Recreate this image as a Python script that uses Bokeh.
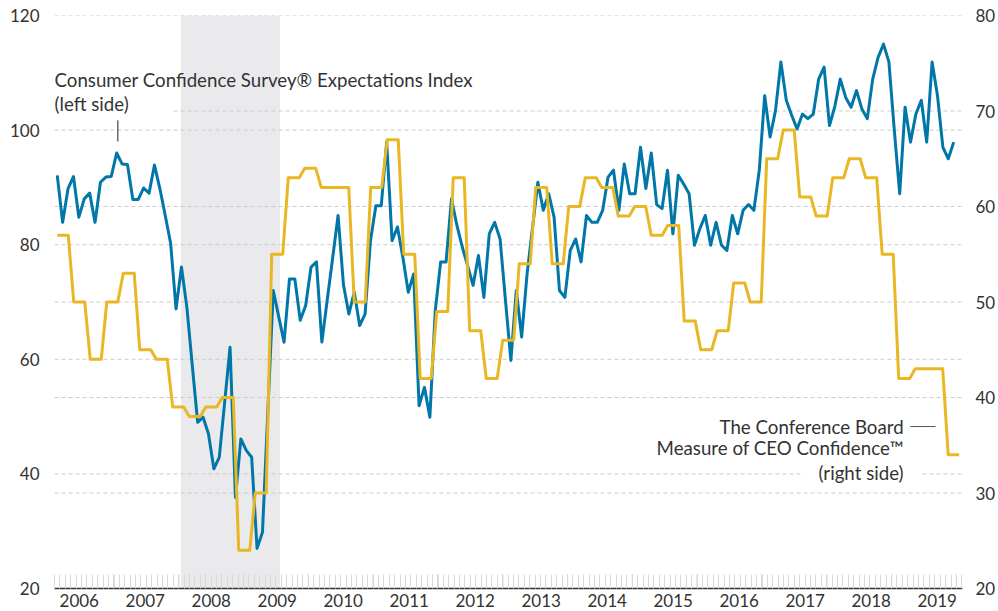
from bokeh.plotting import figure
from bokeh.models import Range1d, LinearAxis, FixedTicker, BoxAnnotation, Label, Span
from bokeh.embed import file_html
from bokeh.resources import INLINE

# ---------------- data ----------------
years = [str(y) for y in range(2006, 2020)]

# Consumer Confidence Survey Expectations Index, monthly from Jan 2006 (left axis)
expectations = [
    92.1, 83.9, 89.8, 91.9, 84.8, 88.0, 89.0, 83.9, 90.9, 91.8, 91.9, 96.0,
    94.1, 94.0, 87.9, 87.9, 89.9, 89.0, 93.9, 89.8, 85.1, 80.2, 68.8, 76.1,
    69.1, 59.0, 49.0, 49.9, 47.0, 40.9, 42.9, 52.5, 62.1, 35.9, 46.1, 44.1,
    42.9, 27.0, 29.8, 51.0, 72.0, 67.5, 63.0, 74.0, 74.0, 66.8, 69.4, 76.1,
    77.0, 63.0, 70.4, 77.7, 85.1, 73.0, 67.9, 71.7, 65.9, 67.9, 80.7, 86.8,
    86.8, 97.9, 80.7, 83.1, 77.8, 71.7, 74.9, 51.9, 55.1, 49.9, 68.5, 77.0,
    77.0, 88.0, 83.4, 79.6, 76.3, 72.9, 78.1, 70.8, 81.9, 83.9, 81.0, 70.3,
    59.8, 72.0, 63.9, 74.9, 82.9, 90.9, 86.0, 88.9, 84.8, 72.0, 70.8, 79.0,
    81.0, 77.0, 85.1, 83.9, 83.9, 86.0, 91.8, 93.0, 86.0, 94.1, 88.9, 88.9,
    97.0, 89.8, 96.0, 87.0, 86.3, 93.0, 81.9, 92.1, 90.6, 88.9, 79.9, 82.8,
    85.1, 79.9, 83.9, 79.9, 79.0, 85.1, 81.9, 86.0, 87.0, 86.0, 93.0, 106.0,
    98.8, 103.4, 111.9, 105.2, 102.6, 100.2, 102.8, 102.0, 102.8, 108.9, 111.0, 100.8,
    104.2, 108.9, 105.7, 104.0, 106.9, 103.7, 102.0, 108.9, 112.7, 115.0, 111.9, 100.0,
    88.9, 104.0, 97.9, 102.8, 105.2, 97.9, 111.9, 106.0, 97.0, 95.0, 97.9,
]

# Measure of CEO Confidence, quarterly from Q1 2006 (right axis)
ceo_quarterly = [
    57, 50, 44, 50, 53, 45, 44, 39, 38, 39, 40, 24, 30, 55,
    63, 64, 62, 62, 50, 62, 67, 55, 42, 49, 63, 47, 42, 46,
    54, 62, 54, 60, 63, 62, 59, 60, 57, 58, 48, 45, 47, 52,
    50, 65, 68, 61, 59, 63, 65, 63, 55, 42, 43, 43, 34,
]

# recession shading: Dec 2007 .. Jun 2009 (months since Jan 2006)
recession = (23, 41)

left_ticks = [20, 40, 60, 80, 100, 120]
right_ticks = [20, 30, 40, 50, 60, 70, 80]

# ---------------- styling / layout ----------------
BLUE = "#0077A8"
GOLD = "#E9B723"
TXT = "#333333"
FONT = "Lato"
GRID = "#cccccc"
ANN_SIZE = "18.7px"

# the monthly index series is drawn slightly tighter than the CEO months
BLUE_STEP = 163.0 / 166.0
bx = [i * BLUE_STEP for i in range(len(expectations))]
ceo_monthly = [v for v in ceo_quarterly for _ in range(3)]
yx = list(range(len(ceo_monthly)))

label_pos = [4 + 12 * k for k in range(len(years))]
minor_pos = [(k + 0.5) * BLUE_STEP for k in range(-1, 168)]
year_tick_pos = [(10.5 + 12 * k) * BLUE_STEP for k in range(0, 14)]

p = figure(
    frame_width=908, frame_height=573,
    x_range=Range1d(-0.5, 164.6), y_range=Range1d(20, 120),
    output_backend="svg", toolbar_location=None,
    min_border_left=54, min_border_right=36, min_border_top=15, min_border_bottom=23,
    background_fill_color="white", border_fill_color="white", outline_line_color=None,
)
p.extra_y_ranges = {"right": Range1d(20, 80)}

# recession band
p.add_layout(BoxAnnotation(left=recession[0] - 0.5, right=recession[1] - 0.5,
                           fill_color="#EAEAED", fill_alpha=1.0, line_color=None,
                           level="underlay"))

# dashed grid lines for both scales
p.xgrid.visible = False
p.ygrid.visible = False
for v in left_ticks[1:]:
    p.add_layout(Span(location=v, dimension="width", line_color=GRID,
                      line_dash="4 3", line_width=1, level="underlay"))
for v in right_ticks[1:-1]:
    p.add_layout(Span(location=v, dimension="width", y_range_name="right",
                      line_color=GRID, line_dash="4 3", line_width=1, level="underlay"))

# left axis
ya = p.yaxis[0]
ya.ticker = FixedTicker(ticks=left_ticks)
ya.axis_line_color = None
ya.major_tick_line_color = None
ya.minor_tick_line_color = None
ya.major_tick_out = 0
ya.major_tick_in = 0
ya.major_label_standoff = 15
ya.major_label_text_font = FONT
ya.major_label_text_font_size = "17px"
ya.major_label_text_color = TXT

# right axis
ra = LinearAxis(y_range_name="right", ticker=FixedTicker(ticks=right_ticks))
ra.axis_line_color = None
ra.major_tick_line_color = None
ra.minor_tick_line_color = None
ra.major_tick_out = 0
ra.major_tick_in = 0
ra.major_label_standoff = 13
ra.major_label_text_font = FONT
ra.major_label_text_font_size = "17px"
ra.major_label_text_color = TXT
p.add_layout(ra, "right")

# bottom axis: line, monthly ticks and year labels
xa = p.xaxis[0]
xa.ticker = FixedTicker(ticks=label_pos, minor_ticks=minor_pos)
xa.major_label_overrides = {pos: yr for pos, yr in zip(label_pos, years)}
xa.major_tick_line_color = None
xa.major_tick_out = 0
xa.major_tick_in = 0
xa.minor_tick_in = 14
xa.minor_tick_out = 0
xa.minor_tick_line_color = "#d9d9d9"
xa.minor_tick_line_width = 1
xa.axis_line_color = "#333333"
xa.axis_line_width = 1.4
xa.major_label_standoff = 5
xa.major_label_text_font = FONT
xa.major_label_text_font_size = "17px"
xa.major_label_text_color = TXT

# darker year ticks
p.segment(x0=year_tick_pos, y0=[20] * len(year_tick_pos),
          x1=year_tick_pos, y1=[22.44] * len(year_tick_pos),
          line_color="#b4b4b4", line_width=1)

# series
p.line(bx, expectations, line_color=BLUE, line_width=3, line_join="round")
p.line(yx, ceo_monthly, y_range_name="right", line_color=GOLD, line_width=3, line_join="round")

# annotations
def lab(x, y, text, align="left", rng="default", **kw):
    return Label(x=x, y=y, text=text, text_align=align, text_baseline="middle",
                 text_font=FONT, text_font_size=ANN_SIZE, text_color=TXT,
                 y_range_name=rng, **kw)

# white mask that interrupts the grid line just under the left-side note
p.add_layout(BoxAnnotation(left=-0.5, right=21.1, bottom=102.6, top=104.0,
                           fill_color="white", fill_alpha=1.0, line_color=None))
p.add_layout(lab(-0.5, 108.66, "Consumer Confidence Survey\u00ae Expectations Index"))
p.add_layout(lab(-0.5, 104.47, "(left side)"))
p.segment(x0=[11.02], y0=[98.0], x1=[11.02], y1=[101.7], line_color="#222222", line_width=1)

p.add_layout(lab(153.9, 36.96, "The Conference Board", align="right", rng="right"))
p.add_layout(lab(153.9, 34.69, "Measure of CEO Confidence\u2122", align="right", rng="right"))
p.add_layout(lab(156.8, 32.07, "(right side)", align="right", rng="right",
                 background_fill_color="white", padding=(16, 1)))
p.segment(x0=[155.1], y0=[36.96], x1=[159.7], y1=[36.96], y_range_name="right",
          line_color="#555555", line_width=1)

open("out.html", "w").write(file_html(p, INLINE))
